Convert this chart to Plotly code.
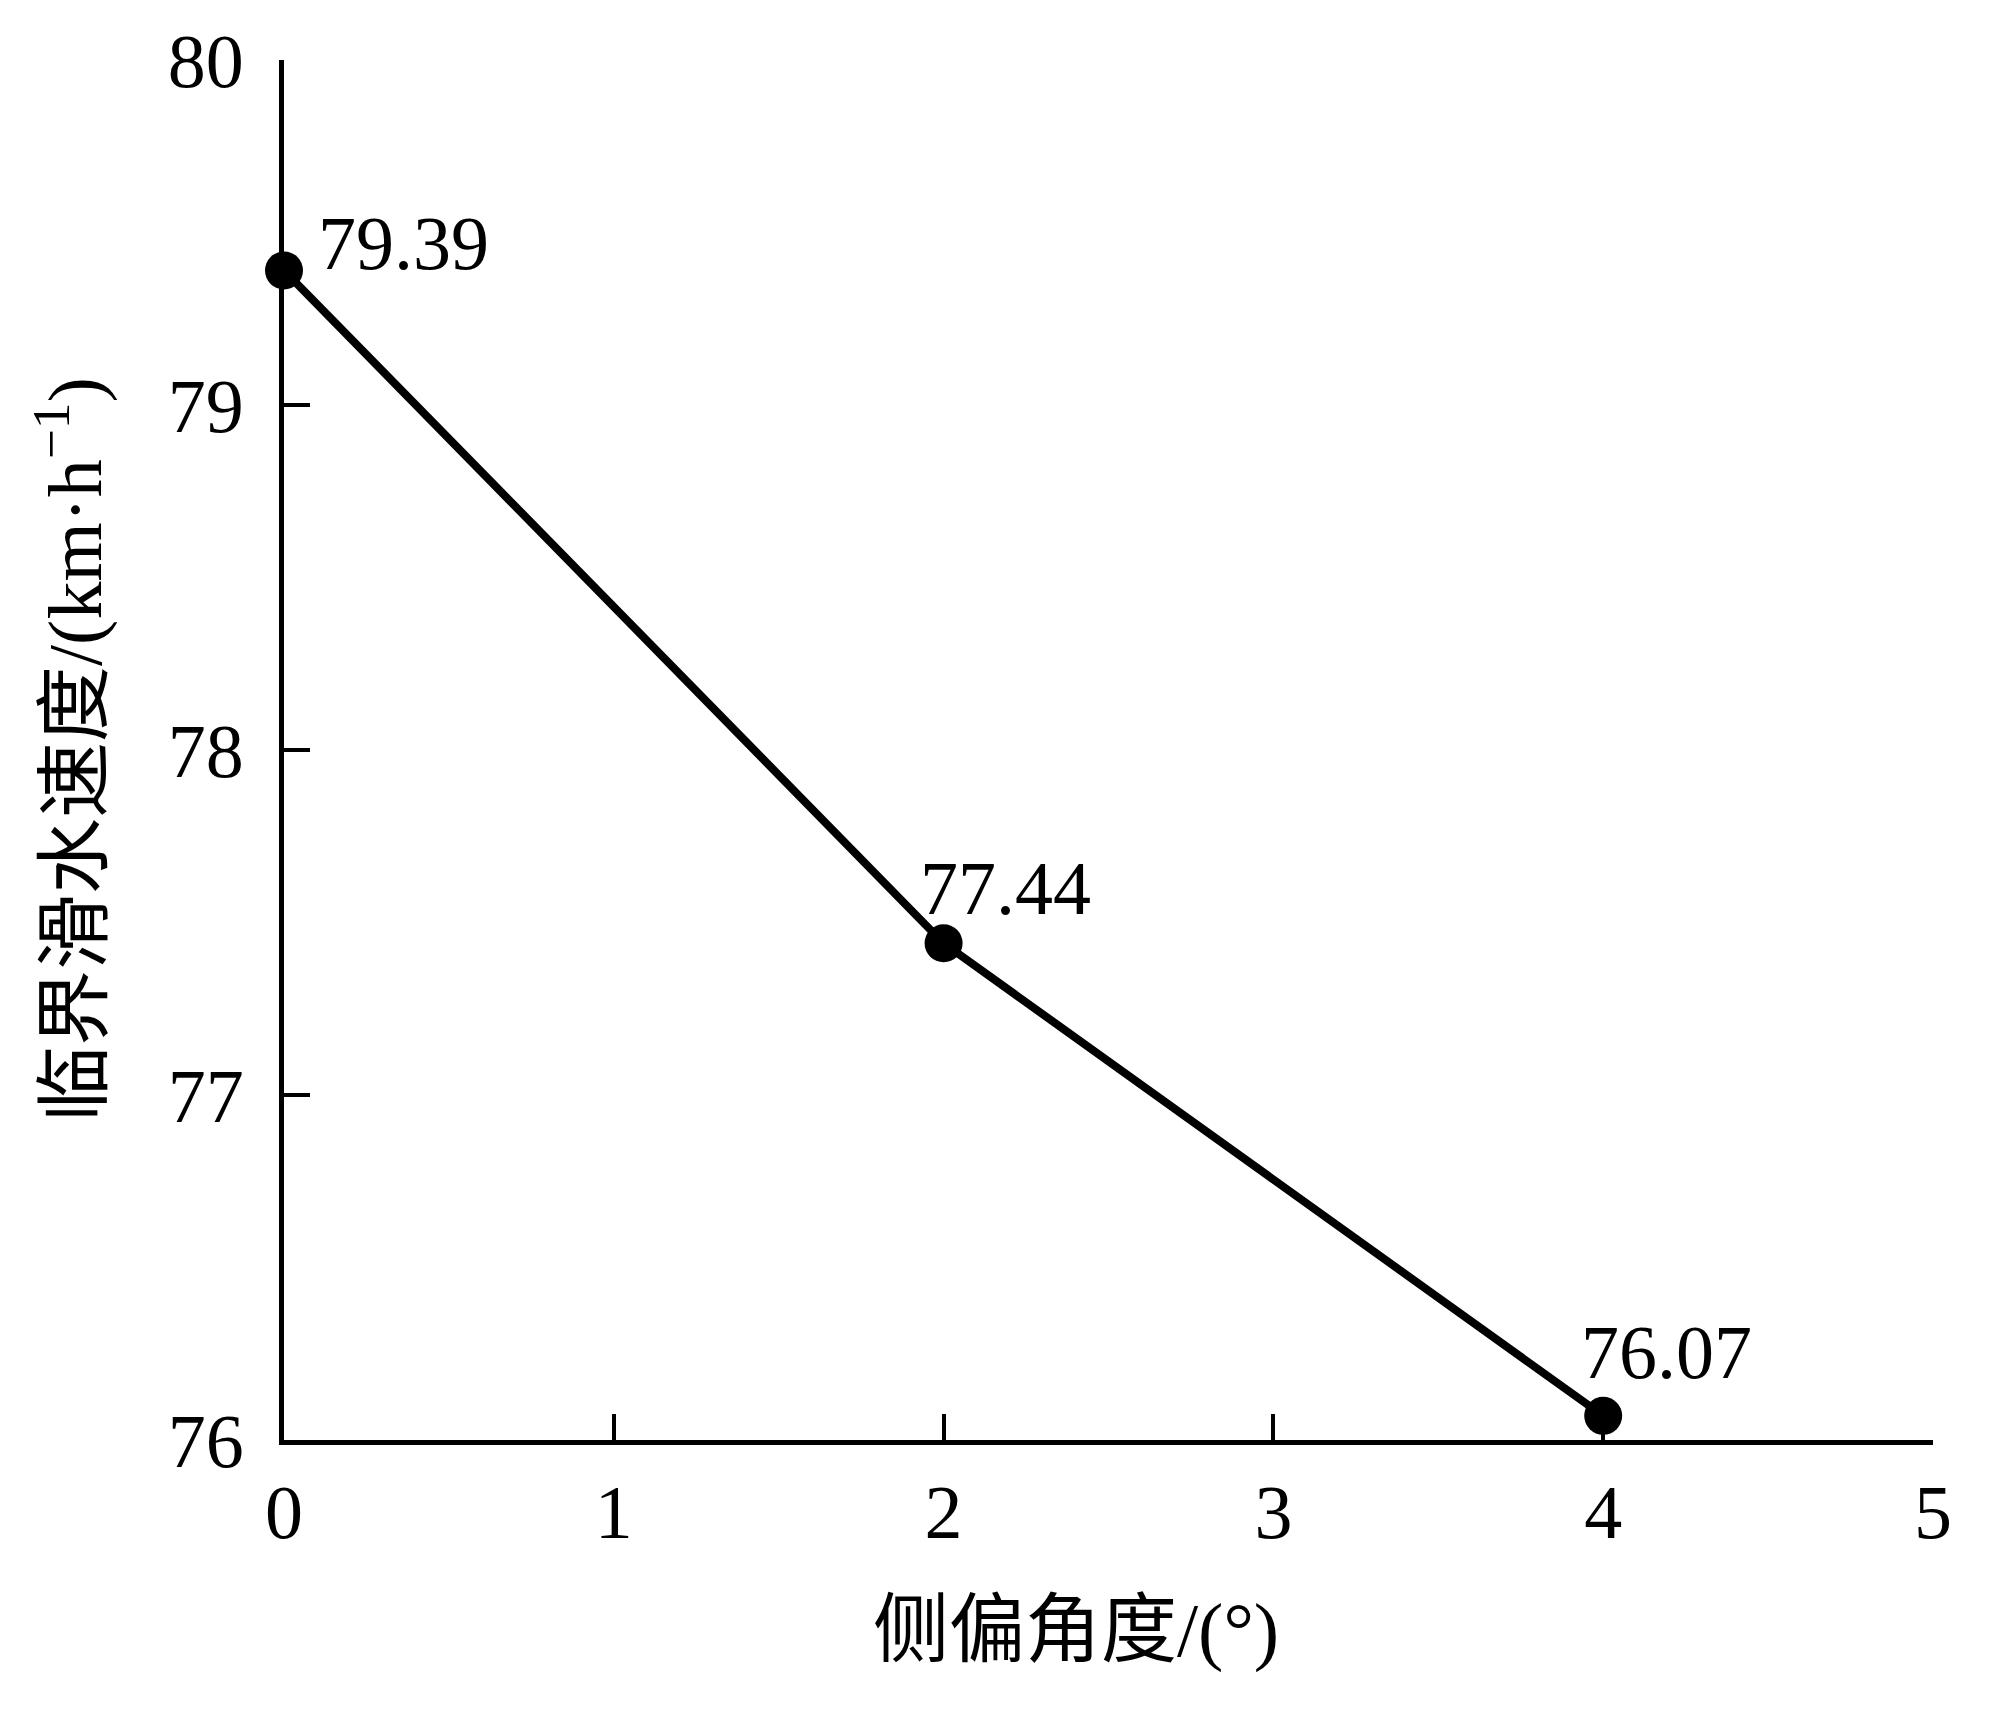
import plotly.graph_objects as go

angles = [0, 2, 4]
speeds = [79.39, 77.44, 76.07]
labels = ["79.39", "77.44", "76.07"]
label_xshift = [32, -26, -24]
label_yshift = [27, 55, 64]

x_ticks = [0, 1, 2, 3, 4, 5]
y_ticks = [76, 77, 78, 79, 80]

FONT = "Liberation Serif, Noto Sans CJK SC, serif"

fig = go.Figure()
fig.add_trace(go.Scatter(
    x=angles, y=speeds, mode="lines+markers",
    line=dict(color="black", width=8),
    marker=dict(color="black", size=38, line=dict(width=0)),
    cliponaxis=False, showlegend=False,
))

for x, y, t, dx, dy in zip(angles, speeds, labels, label_xshift, label_yshift):
    fig.add_annotation(x=x, y=y, text=t, showarrow=False, xanchor="left",
                       yanchor="middle", xshift=dx, yshift=dy,
                       font=dict(family=FONT, size=76, color="black"))

L, R, T, B = 276, 69, 52, 284
W, H = 1994, 1716
pw, ph = W - L - R, H - T - B

fig.add_annotation(xref="paper", yref="paper", x=(1068 - L) / pw, y=-(1623 - (H - B)) / ph,
                   text="侧偏角度/(°)", showarrow=False, xanchor="center", yanchor="middle",
                   font=dict(family=FONT, size=76, color="black"))
fig.add_annotation(xref="paper", yref="paper", x=-(L - 62) / pw, y=0.5,
                   text="临界滑水速度/(km·h<sup>−1</sup>)", showarrow=False, textangle=-90,
                   xanchor="center", yanchor="middle",
                   font=dict(family=FONT, size=76, color="black"))

fig.update_layout(
    width=W, height=H, margin=dict(l=L, r=R, t=T, b=B, autoexpand=False),
    paper_bgcolor="white", plot_bgcolor="white",
    font=dict(family=FONT, size=76, color="black"),
)
fig.update_xaxes(range=[0, 5], tickvals=x_ticks, ticktext=[str(v) for v in x_ticks],
                 showgrid=False, zeroline=False, showline=True, linecolor="black", linewidth=5,
                 ticks="inside", ticklen=26, tickwidth=3.5, tickcolor="black",
                 ticklabelstandoff=2, tickfont=dict(family=FONT, size=76, color="black"))
fig.update_yaxes(range=[76, 80], tickvals=y_ticks, ticktext=[str(v) for v in y_ticks],
                 showgrid=False, zeroline=False, showline=True, linecolor="black", linewidth=5,
                 ticks="inside", ticklen=26, tickwidth=3.5, tickcolor="black",
                 ticklabelstandoff=20, tickfont=dict(family=FONT, size=76, color="black"))

fig.write_html("out.html")
